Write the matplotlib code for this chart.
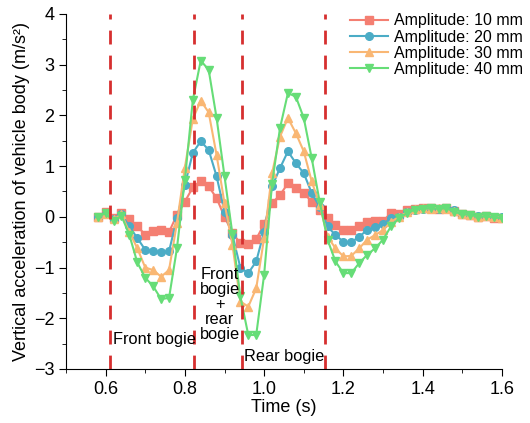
import numpy as np
import matplotlib
matplotlib.use("Agg")
import matplotlib.pyplot as plt
from matplotlib.ticker import MultipleLocator

plt.rcParams['font.family'] = ['Liberation Sans', 'DejaVu Sans']

# time axis (s)
time = [0.58, 0.60, 0.62, 0.64, 0.66, 0.68, 0.70, 0.72, 0.74, 0.76,
        0.78, 0.80, 0.82, 0.84, 0.86, 0.88, 0.90, 0.92, 0.94, 0.96,
        0.98, 1.00, 1.02, 1.04, 1.06, 1.08, 1.10, 1.12, 1.14, 1.16,
        1.18, 1.20, 1.22, 1.24, 1.26, 1.28, 1.30, 1.32, 1.34, 1.36,
        1.38, 1.40, 1.42, 1.44, 1.46, 1.48, 1.50, 1.52, 1.54, 1.56,
        1.58, 1.60]

# vertical acceleration (m/s^2) for each amplitude
acc_10 = [0.0, 0.1, -0.03, 0.08, -0.05, -0.19, -0.35, -0.27, -0.26, -0.3,
          0.04, 0.3, 0.58, 0.7, 0.6, 0.37, 0.0, -0.32, -0.52, -0.53,
          -0.44, -0.14, 0.27, 0.43, 0.66, 0.56, 0.47, 0.3, 0.14, -0.03,
          -0.16, -0.26, -0.26, -0.18, -0.1, -0.09, -0.08, 0.07, 0.05, 0.14,
          0.16, 0.17, 0.18, 0.16, 0.17, 0.12, 0.05, 0.03, 0.0, 0.01,
          -0.02, -0.02]
acc_20 = [0.0, 0.05, -0.05, 0.05, -0.19, -0.42, -0.65, -0.68, -0.7, -0.68,
          -0.03, 0.63, 1.26, 1.49, 1.32, 0.8, 0.1, -0.36, -1.0, -1.11,
          -0.88, -0.29, 0.6, 0.96, 1.29, 1.06, 0.86, 0.47, 0.2, -0.19,
          -0.36, -0.49, -0.5, -0.39, -0.26, -0.2, -0.14, -0.03, 0.0, 0.09,
          0.14, 0.16, 0.17, 0.15, 0.17, 0.13, 0.05, 0.04, 0.01, 0.02,
          -0.01, -0.01]
acc_30 = [0.0, 0.05, -0.05, 0.05, -0.3, -0.62, -1.0, -1.05, -1.18, -1.05,
          -0.12, 0.97, 1.93, 2.29, 2.06, 1.22, 0.27, -0.55, -1.67, -1.77,
          -1.41, -0.42, 0.86, 1.58, 1.95, 1.65, 1.29, 0.7, 0.24, -0.39,
          -0.62, -0.78, -0.77, -0.62, -0.45, -0.36, -0.26, -0.1, 0.0, 0.09,
          0.15, 0.17, 0.16, 0.18, 0.15, 0.12, 0.06, 0.03, 0.0, 0.02,
          0.0, -0.02]
acc_40 = [0.0, 0.07, -0.09, 0.02, -0.36, -0.9, -1.2, -1.37, -1.62, -1.6,
          -0.62, 0.73, 2.3, 3.08, 2.9, 1.95, 0.8, -0.34, -1.57, -2.33,
          -2.33, -1.14, 0.65, 1.75, 2.44, 2.37, 1.95, 1.16, 0.3, -0.45,
          -0.88, -1.11, -1.11, -0.91, -0.75, -0.62, -0.45, -0.19, -0.03, 0.07,
          0.14, 0.16, 0.17, 0.16, 0.17, 0.1, 0.05, 0.04, 0.0, 0.01,
          -0.01, -0.03]

labels = ['Amplitude: 10 mm', 'Amplitude: 20 mm', 'Amplitude: 30 mm', 'Amplitude: 40 mm']
colors = ['#F47F72', '#4BACC6', '#F9B774', '#66DD77']
markers = ['s', 'o', '^', 'v']

# wheelset passage times (s)
bogie_lines = [0.612, 0.823, 0.943, 1.153]

fig = plt.figure(figsize=(5.3, 4.23), dpi=100)
ax = fig.add_axes([0.1245, 0.1277, 0.8225, 0.8393])

for y, lab, c, m in zip([acc_10, acc_20, acc_30, acc_40], labels, colors, markers):
    ax.plot(time, y, color=c, marker=m, markersize=5.5, linewidth=1.5, label=lab)

for xv in bogie_lines:
    ax.axvline(xv, color='#D62F2F', linestyle=(0, (5, 4)), linewidth=2)

ax.text(0.618, -2.42, 'Front bogie', fontsize=11.8, ha='left', va='center')
ax.text(0.888, -1.72, 'Front\nbogie\n+\nrear\nbogie', fontsize=11.8, ha='center',
        va='center', linespacing=1.0)
ax.text(0.948, -2.75, 'Rear bogie', fontsize=11.8, ha='left', va='center')

ax.set_xlim(0.5, 1.6)
ax.set_ylim(-3, 4)
ax.xaxis.set_major_locator(MultipleLocator(0.2))
ax.xaxis.set_minor_locator(MultipleLocator(0.1))
ax.yaxis.set_major_locator(MultipleLocator(1))
ax.yaxis.set_minor_locator(MultipleLocator(0.5))
ax.set_xticklabels([f'{v:.1f}' for v in ax.get_xticks()])
ax.tick_params(which='both', direction='out', labelsize=13)
ax.tick_params(which='major', length=5)
ax.tick_params(which='minor', length=3)
ax.spines['top'].set_visible(False)
ax.spines['right'].set_visible(False)

ax.set_xlabel('Time (s)', fontsize=13, labelpad=1)
ax.set_ylabel('Vertical acceleration of vehicle body (m/s²)', fontsize=13, labelpad=3)

ax.legend(loc='upper right', bbox_to_anchor=(1.062, 1.02), frameon=False, fontsize=11.5,
          handlelength=2.4, labelspacing=0.08, handletextpad=0.35, borderaxespad=0)

fig.savefig('out.png', dpi=100)
